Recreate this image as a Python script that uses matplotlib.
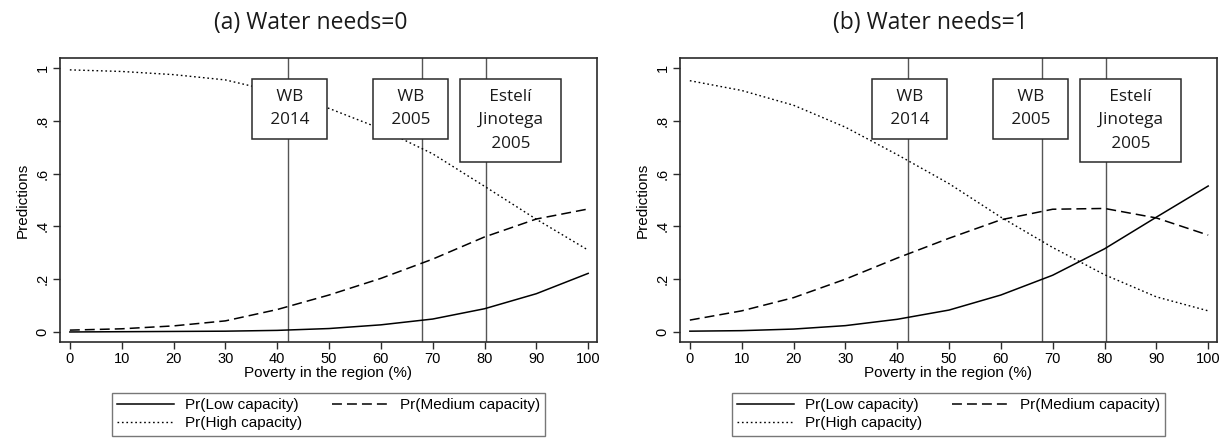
import numpy as np
import matplotlib
matplotlib.use("Agg")
import matplotlib.pyplot as plt

# poverty levels (%) at which predictions were computed
poverty = [0, 10, 20, 30, 40, 50, 60, 70, 80, 90, 100]

# (a) Water needs = 0
low_a = [0.000, 0.001, 0.002, 0.003, 0.006, 0.013, 0.027, 0.049, 0.088, 0.145, 0.222]
med_a = [0.007, 0.012, 0.023, 0.042, 0.085, 0.140, 0.203, 0.276, 0.360, 0.428, 0.466]
high_a = [0.993, 0.987, 0.975, 0.955, 0.909, 0.847, 0.770, 0.675, 0.552, 0.427, 0.310]

# (b) Water needs = 1
low_b = [0.003, 0.005, 0.011, 0.024, 0.048, 0.083, 0.140, 0.215, 0.315, 0.435, 0.553]
med_b = [0.045, 0.080, 0.130, 0.200, 0.280, 0.355, 0.425, 0.465, 0.468, 0.432, 0.367]
high_b = [0.952, 0.915, 0.859, 0.776, 0.672, 0.562, 0.435, 0.320, 0.217, 0.133, 0.080]

# reference poverty rates
ref_lines = [42, 68, 80.3]
ref_labels = ["WB\n2014", "WB\n2005", "Estelí\nJinotega\n2005"]
label_x = [42.4, 65.7, 85.0]

titles = ["(a) Water needs=0", "(b) Water needs=1"]
xticks = list(range(0, 101, 10))
yticks = [0, 0.2, 0.4, 0.6, 0.8, 1.0]
ytick_labels = ["0", ".2", ".4", ".6", ".8", "1"]

SANS = "Liberation Sans"
BOXFONT = "Open Sans"
FRAME = "#2a2a2a"


def draw_panel(ax, low, med, high):
    l1, = ax.plot(poverty, low, color="black", lw=1.1, label="Pr(Low capacity)", zorder=3)
    l2, = ax.plot(poverty, med, color="black", lw=1.1, dashes=(6.5, 3.3),
                  label="Pr(Medium capacity)", zorder=3)
    l3, = ax.plot(poverty, high, color="black", lw=1.0, linestyle=(0, (1.2, 2.0)),
                  label="Pr(High capacity)", zorder=3)

    for xv in ref_lines:
        ax.axvline(xv, color="#555555", lw=1.0, zorder=2)
    for lx, txt in zip(label_x, ref_labels):
        # a space plus a thin space on each side gives the wide Stata box
        padded = "\n".join(" \u2009" + s + "\u2009 " for s in txt.split("\n"))
        ax.text(lx, 0.92, padded, ha="center", va="top", fontsize=12.3,
                family=BOXFONT, color="#1a1a1a", linespacing=1.6, zorder=5,
                multialignment="center",
                bbox=dict(boxstyle="square,pad=0.62", fc="white", ec=FRAME, lw=1.1))

    ax.set_xlim(-1.9, 101.7)
    ax.set_ylim(-0.038, 1.038)
    ax.set_xticks(xticks)
    ax.set_xticklabels([str(v) for v in xticks], family=SANS, fontsize=10.5)
    ax.set_yticks(yticks)
    ax.set_yticklabels(ytick_labels, family=SANS, fontsize=10.5, rotation=90, va="center")
    ax.tick_params(direction="out", length=5, width=1.0, color=FRAME, pad=2.5)
    for sp in ax.spines.values():
        sp.set_color(FRAME)
        sp.set_linewidth(1.2)
    ax.set_xlabel("Poverty in the region (%)", family=SANS, fontsize=11, labelpad=0)
    ax.set_ylabel("Predictions", family=SANS, fontsize=11, labelpad=4)

    # Stata fills the legend row by row: Low, Medium / High
    leg = ax.legend([l1, l3, l2], [l1.get_label(), l3.get_label(), l2.get_label()],
                    loc="upper center", bbox_to_anchor=(0.5, -0.18), ncol=2,
                    prop={"family": SANS, "size": 11}, frameon=True, fancybox=False,
                    edgecolor="#555555", handlelength=3.7, handletextpad=0.7,
                    columnspacing=2.0, borderpad=0.35, labelspacing=0.25,
                    borderaxespad=0)
    leg.get_frame().set_linewidth(1.0)


fig = plt.figure(figsize=(12.25, 4.4), dpi=100)
ax1 = fig.add_axes([60 / 1225, 98 / 440, 537 / 1225, 284 / 440])
ax2 = fig.add_axes([680 / 1225, 98 / 440, 537 / 1225, 284 / 440])

draw_panel(ax1, low_a, med_a, high_a)
draw_panel(ax2, low_b, med_b, high_b)

fig.text(311 / 1225, 1 - 23 / 440, titles[0], ha="center", va="center",
         family=BOXFONT, fontsize=16.5, color="#1a1a1a")
fig.text(930 / 1225, 1 - 23 / 440, titles[1], ha="center", va="center",
         family=BOXFONT, fontsize=16.5, color="#1a1a1a")

fig.savefig("out.png", dpi=100, facecolor="white")
